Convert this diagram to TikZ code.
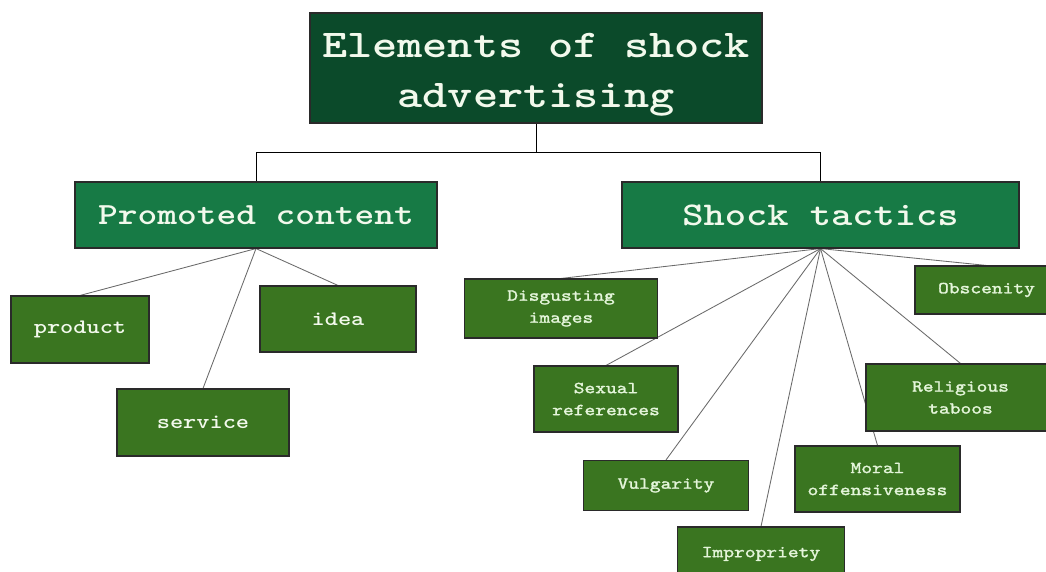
\documentclass[tikz,border=0pt]{standalone}
\usepackage{fontspec}
\usetikzlibrary{backgrounds}
% typewriter faces, widened to a Courier-like set width
\newfontfamily\monobold{lmmonolt10-bold}[Extension=.otf, FakeStretch=1.22]
\newfontfamily\monoreg{lmmono10-regular}[Extension=.otf, FakeStretch=1.22, FakeBold=1.6]
\definecolor{topgreen}{HTML}{0B4A2A}
\definecolor{midgreen}{HTML}{177A45}
\definecolor{leafgreen}{HTML}{3A7520}
\definecolor{boxtext}{HTML}{F2F9EC}
\definecolor{tactictext}{HTML}{E4F5DA}
\definecolor{edge}{HTML}{2A2A2A}
\definecolor{fan}{HTML}{6A6A6A}
\begin{document}
\begin{tikzpicture}[x=1pt,y=-1pt,
  box/.style={draw=edge, line width=1.1pt, text=boxtext, inner sep=0pt, align=center},
  titlebox/.style={box, fill=topgreen},
  titletext/.style={text=boxtext, inner sep=0pt, align=center, font=\monobold\fontsize{39.3}{50}\selectfont},
  midbox/.style={box, fill=midgreen, font=\monobold\fontsize{30.8}{40}\selectfont},
  leafbox/.style={box, fill=leafgreen, font=\monobold\fontsize{20.6}{26}\selectfont},
  tacticbox/.style={box, fill=leafgreen, text=tactictext, font=\monoreg\fontsize{16.8}{22}\selectfont},
  trunk/.style={draw=black, line width=1pt},
  twig/.style={draw=fan, line width=0.85pt}
]
\useasboundingbox (0,0) rectangle (1046,571);
\clip (0,0) rectangle (1046,571);

% root and the two main branches
\node[titlebox, minimum width=452pt, minimum height=110pt] (root) at (536,68) {};
\node[titletext] (roottext) at (536,75) {Elements of shock\\advertising};
\node[midbox, minimum width=362pt, minimum height=66pt] (content) at (256,215) {Promoted content};
\node[midbox, minimum width=397pt, minimum height=66pt, font=\monobold\fontsize{33.2}{40}\selectfont] (tactics) at (820.5,215) {Shock tactics};
\coordinate (hub) at (536,152);

% what is promoted
\node[leafbox, minimum width=138pt, minimum height=67pt] (product) at (80,329.5) {product};
\node[leafbox, minimum width=156pt, minimum height=66pt] (idea) at (338,319) {idea};
\node[leafbox, minimum width=172pt, minimum height=67pt] (service) at (203,422.5) {service};

% the shock tactics
\node[tacticbox, minimum width=193pt, minimum height=59pt] (disgust) at (561,308.5) {Disgusting\\images};
\node[tacticbox, minimum width=143pt, minimum height=48pt] (obscen) at (986.5,290) {Obscenity};
\node[tacticbox, minimum width=144pt, minimum height=66pt] (sexual) at (606,399) {Sexual\\references};
\node[tacticbox, minimum width=189pt, minimum height=67pt] (relig) at (960.5,397.5) {Religious\\taboos};
\node[tacticbox, minimum width=165pt, minimum height=50pt] (vulgar) at (666,485.5) {Vulgarity};
\node[tacticbox, minimum width=165pt, minimum height=66pt] (moral) at (877.5,479) {Moral\\offensiveness};
\node[tacticbox, minimum width=167pt, minimum height=54pt] (improp) at (761,554) {Impropriety};

% connectors, kept behind the boxes
\begin{scope}[on background layer]
  \fill[white] (0,0) rectangle (1046,571);
  \draw[trunk] (root.south) -- (hub);
  \draw[trunk] (hub) -| (content.north);
  \draw[trunk] (hub) -| (tactics.north);
  \foreach \leaf in {product, idea, service}
    \draw[twig] (content.south) -- (\leaf.north);
  \foreach \leaf in {disgust, obscen, sexual, relig, vulgar, moral, improp}
    \draw[twig] (tactics.south) -- (\leaf.north);
\end{scope}
\end{tikzpicture}
\end{document}
